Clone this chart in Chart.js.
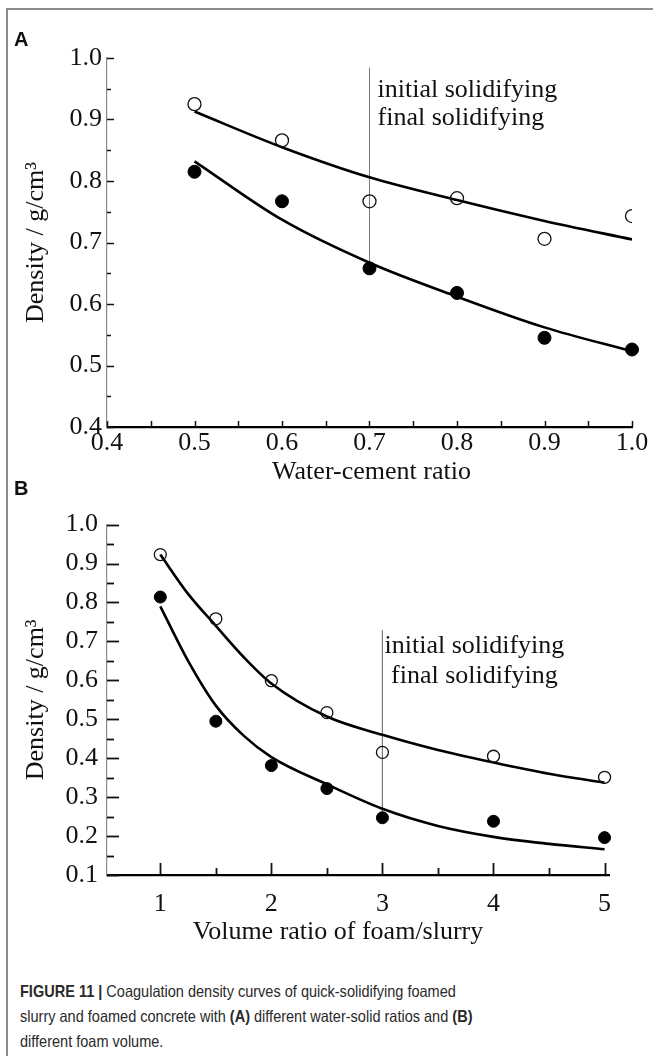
<!DOCTYPE html>
<html><head><meta charset="utf-8">
<script src="https://cdn.jsdelivr.net/npm/chart.js@4.4.1/dist/chart.umd.min.js"></script>
<style>
html,body{margin:0;padding:0;background:#fff;}
body{width:653px;height:1056px;position:relative;overflow:hidden;}
#frame{position:absolute;left:6px;top:8px;width:800px;height:1200px;border-left:2px solid #8c8c8c;border-top:2px solid #8c8c8c;}
canvas{position:absolute;left:0;}
#ca{top:0;}
#cb{top:500px;}
.lab{position:absolute;font-family:"Liberation Sans",Arial,sans-serif;font-weight:bold;font-size:20px;color:#111;}
#caption{position:absolute;left:20px;top:979px;font-family:"Liberation Sans",Arial,sans-serif;font-size:16.5px;line-height:25px;color:#2a2a2a;white-space:nowrap;transform:scaleX(0.88);transform-origin:0 0;}
</style></head>
<body>
<div id="frame"></div>
<canvas id="ca" width="653" height="500"></canvas>
<canvas id="cb" width="653" height="460"></canvas>
<div class="lab" style="left:14px;top:28px;">A</div>
<div class="lab" style="left:14px;top:477px;">B</div>
<div id="caption"><b>FIGURE 11 |</b> Coagulation density curves of quick-solidifying foamed<br>slurry and foamed concrete with <b>(A)</b> different water-solid ratios and <b>(B)</b><br>different foam volume.</div>
<script>
// ---------- Panel A data ----------
const aX = [0.5, 0.6, 0.7, 0.8, 0.9, 1.0];
const aOpen = [0.925, 0.866, 0.767, 0.772, 0.706, 0.743];
const aFilled = [0.815, 0.767, 0.658, 0.618, 0.545, 0.526];
const aFitX = [0.5, 0.6, 0.7, 0.8, 0.9, 1.0];
const aOpenFit = [0.913, 0.855, 0.806, 0.769, 0.735, 0.705];
const aFilledFit = [0.832, 0.737, 0.667, 0.612, 0.562, 0.523];
const aXTicks = [0.4, 0.5, 0.6, 0.7, 0.8, 0.9, 1.0];
const aXTickLabels = ['0.4', '0.5', '0.6', '0.7', '0.8', '0.9', '1.0'];
const aXMinor = [0.45, 0.55, 0.65, 0.75, 0.85, 0.95];
const aYTicks = [0.4, 0.5, 0.6, 0.7, 0.8, 0.9, 1.0];
const aYTickLabels = ['0.4', '0.5', '0.6', '0.7', '0.8', '0.9', '1.0'];
const aYMinor = [0.45, 0.55, 0.65, 0.75, 0.85, 0.95];
const aMarkX = 0.7;
const aMarkY = [0.984, 0.668];

// ---------- Panel B data ----------
const bX = [1, 1.5, 2, 2.5, 3, 4, 5];
const bOpen = [0.923, 0.758, 0.599, 0.517, 0.415, 0.405, 0.351];
const bFilled = [0.814, 0.495, 0.381, 0.322, 0.247, 0.238, 0.196];
const bFitX = [1.0, 1.25, 1.5, 1.75, 2.0, 2.5, 3.0, 3.5, 4.0, 4.5, 5.0];
const bOpenFit = [0.923, 0.822, 0.740, 0.660, 0.592, 0.507, 0.460, 0.421, 0.389, 0.360, 0.337];
const bFilledFit = [0.790, 0.650, 0.535, 0.458, 0.403, 0.333, 0.270, 0.226, 0.198, 0.180, 0.166];
const bXTicks = [1, 2, 3, 4, 5];
const bXTickLabels = ['1', '2', '3', '4', '5'];
const bXMinor = [1.5, 2.5, 3.5, 4.5];
const bYTicks = [0.1, 0.2, 0.3, 0.4, 0.5, 0.6, 0.7, 0.8, 0.9, 1.0];
const bYTickLabels = ['0.1', '0.2', '0.3', '0.4', '0.5', '0.6', '0.7', '0.8', '0.9', '1.0'];
const bYMinor = [0.15, 0.25, 0.35, 0.45, 0.55, 0.65, 0.75, 0.85, 0.95];
const bMarkX = 3;
const bMarkY = [0.728, 0.262];

const markLabels = ['initial solidifying', 'final solidifying'];
const xTitleA = 'Water-cement ratio';
const xTitleB = 'Volume ratio of foam/slurry';
const yTitle = 'Density / g/cm\u00B3';

const SERIF = '"Liberation Serif", "Times New Roman", serif';

const inwardTicks = {
  id: 'inwardTicks',
  afterDraw(chart, args, o) {
    const ctx = chart.ctx, xs = chart.scales.x, ys = chart.scales.y, a = chart.chartArea;
    ctx.save();
    ctx.strokeStyle = o.color;
    const dx = (vals, len, w) => { ctx.lineWidth = w; vals.forEach(v => { const p = Math.round(xs.getPixelForValue(v)) + 0.5; ctx.beginPath(); ctx.moveTo(p, a.bottom); ctx.lineTo(p, a.bottom - len); ctx.stroke(); }); };
    const dy = (vals, len, w) => { ctx.lineWidth = w; vals.forEach(v => { const p = Math.round(ys.getPixelForValue(v)) + 0.5; ctx.beginPath(); ctx.moveTo(a.left, p); ctx.lineTo(a.left + len, p); ctx.stroke(); }); };
    dx(o.xMajor, o.xMajorLen, o.xW); dx(o.xMinor, o.xMinorLen, o.xW);
    dy(o.yMajor, o.yMajorLen, o.yW); dy(o.yMinor, o.yMinorLen, o.yW);
    ctx.restore();
  }
};

const markText = {
  id: 'markText',
  afterDatasetsDraw(chart, args, o) {
    const ctx = chart.ctx, xs = chart.scales.x, ys = chart.scales.y;
    const px = xs.getPixelForValue(o.at), top = ys.getPixelForValue(o.top);
    ctx.save();
    ctx.font = o.size + 'px ' + SERIF;
    ctx.fillStyle = '#111';
    ctx.textAlign = o.align;
    ctx.textBaseline = 'middle';
    o.lines.forEach((t, i) => ctx.fillText(t, px + o.dx, top + o.dy[i]));
    ctx.restore();
  }
};

// draws the x-axis title, centred on the axis plus a horizontal offset
const xTitlePlugin = {
  id: 'xTitle',
  afterDraw(chart, args, o) {
    const ctx = chart.ctx, a = chart.chartArea;
    ctx.save();
    ctx.font = o.size + 'px ' + SERIF;
    ctx.fillStyle = '#111';
    ctx.textAlign = 'center';
    ctx.textBaseline = 'middle';
    ctx.fillText(o.text, (a.left + a.right) / 2 + o.dx, a.bottom + o.dy);
    ctx.restore();
  }
};

function pts(xs, ys) { return xs.map((x, i) => ({ x: x, y: ys[i] })); }

function makePanel(id, p) {
  const fontT = { family: SERIF, size: 26 };
  new Chart(document.getElementById(id), {
    type: 'scatter',
    data: {
      datasets: [
        { data: pts([p.markX, p.markX], p.markY), showLine: true, borderColor: '#7a7a7a', borderWidth: 1, pointRadius: 0, order: 5 },
        { data: pts(p.fitX, p.openFit), showLine: true, borderColor: '#000', borderWidth: 2.6, pointRadius: 0, cubicInterpolationMode: 'monotone', order: 4 },
        { data: pts(p.fitX, p.filledFit), showLine: true, borderColor: '#000', borderWidth: 2.6, pointRadius: 0, cubicInterpolationMode: 'monotone', order: 3 },
        { data: pts(p.x, p.open), pointRadius: p.r, pointBackgroundColor: 'rgba(255,255,255,0)', pointBorderColor: '#111', pointBorderWidth: 1.3, clip: p.openClip, order: 2 },
        { data: pts(p.x, p.filled), pointRadius: p.r, pointBackgroundColor: '#000', pointBorderColor: '#000', pointBorderWidth: 1, clip: 20, order: 1 }
      ]
    },
    options: {
      responsive: false, devicePixelRatio: 1, animation: false,
      layout: { padding: p.pad },
      plugins: {
        legend: { display: false }, tooltip: { enabled: false },
        inwardTicks: { color: '#111', xMajor: p.xTicks, xMinor: p.xMinor, xMajorLen: p.xMajLen, xMinorLen: p.xMinLen, xW: p.xTW,
          yMajor: p.yTicks, yMinor: p.yMinor, yMajorLen: p.yMajLen, yMinorLen: p.yMinLen, yW: p.yTW },
        markText: { at: p.markX, top: p.markY[0], lines: markLabels, dx: p.textDx, dy: p.textDy, align: p.textAlign, size: 26 },
        xTitle: { text: p.xTitle, size: 26, dx: p.xTitleDx, dy: p.xTitleDy }
      },
      scales: {
        x: {
          type: 'linear', min: p.xMin, max: p.xMax,
          afterBuildTicks: s => { s.ticks = p.xTicks.map(v => ({ value: v })); },
          afterFit: s => { s.height = p.xH; },
          ticks: { callback: (v, i) => p.xLabels[i], font: { family: SERIF, size: 26 }, color: '#111', padding: p.xPad, maxRotation: 0, autoSkip: false },
          grid: { display: false, drawTicks: false },
          border: { display: true, color: '#000', width: 2.2 },
          title: { display: false }
        },
        y: {
          type: 'linear', min: p.yMin, max: p.yMax,
          afterBuildTicks: s => { s.ticks = p.yTicks.map(v => ({ value: v })); },
          afterFit: s => { s.width = 107; },
          ticks: { callback: (v, i) => p.yLabels[i], font: { family: SERIF, size: 26 }, color: '#111', padding: p.yPad, autoSkip: false },
          grid: { display: false, drawTicks: false },
          border: { display: true, color: '#8a8a8a', width: 1.2 },
          title: { display: true, text: yTitle, font: fontT, color: '#111', padding: { top: 21, bottom: 0 } }
        }
      }
    },
    plugins: [inwardTicks, markText, xTitlePlugin]
  });
}

makePanel('ca', {
  x: aX, open: aOpen, filled: aFilled, fitX: aFitX, openFit: aOpenFit, filledFit: aFilledFit,
  xTicks: aXTicks, xLabels: aXTickLabels, xMinor: aXMinor, yTicks: aYTicks, yLabels: aYTickLabels, yMinor: aYMinor,
  markX: aMarkX, markY: aMarkY, xMin: 0.4, xMax: 1.0, yMin: 0.4, yMax: 1.0, xTitle: xTitleA, xTitleDx: 2, xTitleDy: 45,
  pad: { top: 58, right: 21, left: 0, bottom: 0 }, xH: 73, xPad: 1, yPad: 5,
  xMajLen: 6, xMinLen: 6, xTW: 1.5, yMajLen: 7, yMinLen: 4, yTW: 1.5,
  textDx: 8, textDy: [22, 50], textAlign: 'left', r: 6.5,
  openClip: { left: 20, top: 20, right: 0, bottom: 20 }
});

makePanel('cb', {
  x: bX, open: bOpen, filled: bFilled, fitX: bFitX, openFit: bOpenFit, filledFit: bFilledFit,
  xTicks: bXTicks, xLabels: bXTickLabels, xMinor: bXMinor, yTicks: bYTicks, yLabels: bYTickLabels, yMinor: bYMinor,
  markX: bMarkX, markY: bMarkY, xMin: 0.52, xMax: 5.04, yMin: 0.1, yMax: 1.0, xTitle: xTitleB, xTitleDx: -20, xTitleDy: 57,
  pad: { top: 23, right: 44, left: 0, bottom: 0 }, xH: 85, xPad: 14, yPad: 9,
  xMajLen: 12, xMinLen: 7, xTW: 1.8, yMajLen: 12, yMinLen: 7, yTW: 1.8,
  textDx: 92, textDy: [16, 46], textAlign: 'center', r: 6,
  openClip: 20
});
</script>
</body></html>
